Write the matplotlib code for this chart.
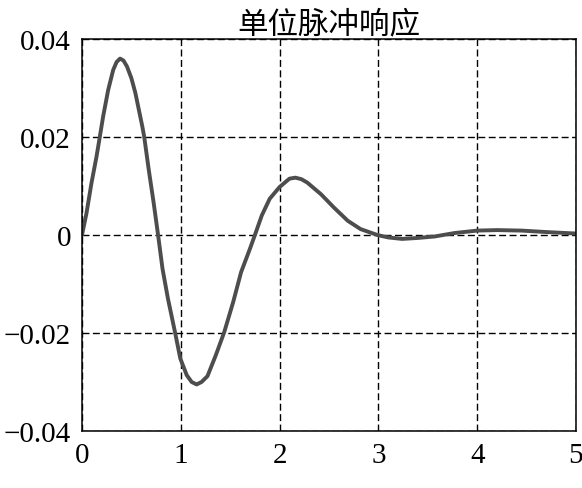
import matplotlib
matplotlib.use("Agg")
import matplotlib.pyplot as plt

title = "单位脉冲响应"
t = [0, 0.045, 0.095, 0.146, 0.18, 0.214, 0.265, 0.316, 0.35, 0.385, 0.42,
     0.455, 0.5, 0.54, 0.61, 0.63, 0.675, 0.725, 0.77, 0.815, 0.87, 0.94,
     0.995, 1.06, 1.11, 1.16, 1.21, 1.27, 1.355, 1.44, 1.53, 1.61, 1.70,
     1.75, 1.82, 1.90, 2.0, 2.10, 2.16, 2.22, 2.28, 2.42, 2.55, 2.69, 2.82,
     2.99, 3.1, 3.24, 3.4, 3.57, 3.77, 4.0, 4.2, 4.45, 4.7, 5.0]
y = [0, 0.0044, 0.0105, 0.0159, 0.0200, 0.0242, 0.0296, 0.0337, 0.0353,
     0.0360, 0.0356, 0.0344, 0.0320, 0.0290, 0.0222, 0.0200, 0.0134, 0.0066,
     0.0, -0.0069, -0.0130, -0.0197, -0.0252, -0.0286, -0.0300, -0.0305,
     -0.0300, -0.0288, -0.0245, -0.0198, -0.0137, -0.0076, -0.0028, 0.0,
     0.0040, 0.0074, 0.0098, 0.0115, 0.0117, 0.0114, 0.0107, 0.0083, 0.0056,
     0.0029, 0.0012, 0.0, -0.0005, -0.0008, -0.0006, -0.0003, 0.0004, 0.0009,
     0.0010, 0.0009, 0.0006, 0.0003]
xticks = [0, 1, 2, 3, 4, 5]
yticks = [-0.04, -0.02, 0, 0.02, 0.04]
ytick_labels = ["\u22120.04", "\u22120.02", "0", "0.02", "0.04"]

fig = plt.figure(figsize=(5.82, 4.89), dpi=100)
ax = fig.add_axes([82/582, 1 - 432/489, (576 - 82)/582, (432 - 40)/489])
ax.plot(t, y, color="#4d4d4d", linewidth=2.8, solid_joinstyle="round",
        solid_capstyle="round")
ax.set_xlim(0, 5)
ax.set_ylim(-0.04, 0.04)
ax.set_xticks(xticks)
ax.set_xticklabels([str(v) for v in xticks])
ax.set_yticks(yticks)
ax.set_yticklabels(ytick_labels)
ax.grid(True, color="black", linestyle=(0, (5, 2.5)), linewidth=1.0)
for lab in ax.get_xticklabels() + ax.get_yticklabels():
    lab.set_fontfamily("Liberation Serif")
    lab.set_fontsize(21)
ax.tick_params(length=0, pad=8)
for s in ax.spines.values():
    s.set_linewidth(1.1)
    s.set_color("black")
ax.set_title(title, fontsize=22, family=["Noto Sans CJK SC", "DejaVu Sans"], pad=4)
fig.savefig("out.png", dpi=100)
